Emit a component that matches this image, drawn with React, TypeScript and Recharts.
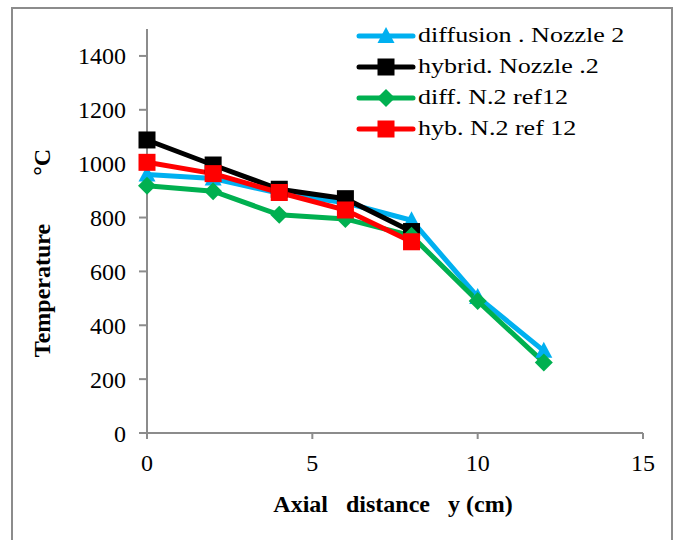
import React from 'react';
import { LineChart, Line, XAxis, YAxis } from 'recharts';

// axial positions (cm)
const xFull = [0, 2, 4, 6, 8, 10, 12];
const xShort = [0, 2, 4, 6, 8];

// temperatures (°C)
const diffusionN2 = [960, 945, 890, 855, 790, 505, 305];
const hybridN2 = [1088, 995, 905, 870, 748];
const diffRef12 = [918, 898, 810, 795, 732, 490, 262];
const hybRef12 = [1005, 963, 893, 828, 710];

const xTicks = [0, 5, 10, 15];
const yTicks = [0, 200, 400, 600, 800, 1000, 1200, 1400];

const toRows = (xs: number[], ys: number[]) => xs.map((x, i) => ({ x, y: ys[i] }));

const SERIES = [
  { name: 'diffusion . Nozzle 2', color: '#00B0F0', shape: 'triangle', data: toRows(xFull, diffusionN2) },
  { name: 'hybrid. Nozzle .2', color: '#000000', shape: 'square', data: toRows(xShort, hybridN2) },
  { name: 'diff. N.2 ref12', color: '#00B050', shape: 'diamond', data: toRows(xFull, diffRef12) },
  { name: 'hyb. N.2 ref 12', color: '#FF0000', shape: 'square', data: toRows(xShort, hybRef12) },
];

const AXIS = '#8c8c8c';
const FONT = '"Liberation Serif", "Times New Roman", serif';

function Marker({ shape, color, cx, cy }: { shape: string; color: string; cx: number; cy: number }) {
  if (shape === 'triangle') {
    return <polygon points={`${cx},${cy - 9} ${cx + 8.5},${cy + 7} ${cx - 8.5},${cy + 7}`} fill={color} />;
  }
  if (shape === 'diamond') {
    return <polygon points={`${cx},${cy - 9} ${cx + 9},${cy} ${cx},${cy + 9} ${cx - 9},${cy}`} fill={color} />;
  }
  return <rect x={cx - 8.5} y={cy - 8.5} width={17} height={17} fill={color} />;
}

const makeDot = (shape: string, color: string) => (props: any) => {
  const { cx, cy, index } = props;
  if (cx == null || cy == null) return <g key={index} />;
  return <Marker key={index} shape={shape} color={color} cx={cx} cy={cy} />;
};

// legend drawn as an overlay so it doesn't eat into the plot area
function LegendBox() {
  return (
    <div style={{ position: 'absolute', left: 356, top: 20, width: 310, fontFamily: FONT }}>
      {SERIES.map((s) => (
        <div key={s.name} style={{ display: 'flex', alignItems: 'center', height: 31 }}>
          <svg width={60} height={24} style={{ flex: 'none' }}>
            <line x1={3} y1={12} x2={57} y2={12} stroke={s.color} strokeWidth={5} strokeLinecap="round" />
            <Marker shape={s.shape} color={s.color} cx={30} cy={12} />
          </svg>
          <span
            style={{
              display: 'inline-block',
              fontSize: 21,
              whiteSpace: 'pre',
              transform: 'scaleX(1.24)',
              transformOrigin: 'left center',
              marginLeft: 2,
              color: '#000',
            }}
          >
            {s.name}
          </span>
        </div>
      ))}
    </div>
  );
}

function YLabel(props: any) {
  const vb = props.viewBox || { x: 0, y: 29, width: 147, height: 404 };
  const cx = 42;
  const cy = vb.y + vb.height / 2 + 22;
  return (
    <text
      x={cx}
      y={cy}
      transform={`rotate(-90, ${cx}, ${cy})`}
      textAnchor="middle"
      dominantBaseline="central"
      style={{ fontFamily: FONT, fontSize: 24, fontWeight: 'bold', whiteSpace: 'pre' }}
      fill="#000"
    >
      {'Temperature        °C'}
    </text>
  );
}

function XLabel(props: any) {
  const vb = props.viewBox || { x: 147, y: 433, width: 496, height: 107 };
  return (
    <text
      x={vb.x + vb.width / 2 - 2}
      y={vb.y + 79}
      textAnchor="middle"
      style={{ fontFamily: FONT, fontSize: 24, fontWeight: 'bold', whiteSpace: 'pre' }}
      fill="#000"
    >
      {'Axial   distance   y (cm)'}
    </text>
  );
}

export default function App() {
  return (
    <div style={{ position: 'absolute', left: 0, top: 0, width: 675, height: 540, background: '#fff' }}>
      <div
        style={{
          position: 'absolute',
          left: 11,
          top: 7,
          width: 658,
          height: 540,
          borderTop: `2px solid ${AXIS}`,
          borderLeft: `2px solid ${AXIS}`,
          borderRight: `2px solid ${AXIS}`,
        }}
      />
      <LineChart
        width={675}
        height={540}
        margin={{ top: 29, right: 32, left: 0, bottom: 0 }}
        style={{ position: 'absolute', left: 0, top: 0 }}
      >
        <XAxis
          type="number"
          dataKey="x"
          domain={[0, 15]}
          ticks={xTicks}
          allowDuplicatedCategory={false}
          height={107}
          stroke={AXIS}
          strokeWidth={2}
          tickSize={6}
          tickMargin={15}
          tick={{ fill: '#000', fontSize: 24, fontFamily: FONT }}
          label={<XLabel />}
        />
        <YAxis
          type="number"
          domain={[0, 1500]}
          ticks={yTicks}
          width={147}
          stroke={AXIS}
          strokeWidth={2}
          tickSize={8}
          tickMargin={13}
          tick={{ fill: '#000', fontSize: 24, fontFamily: FONT }}
          label={<YLabel />}
        />
        {SERIES.map((s) => (
          <Line
            key={s.name}
            data={s.data}
            dataKey="y"
            name={s.name}
            type="linear"
            stroke={s.color}
            strokeWidth={5}
            dot={makeDot(s.shape, s.color)}
            activeDot={false}
            isAnimationActive={false}
          />
        ))}
      </LineChart>
      <LegendBox />
    </div>
  );
}
